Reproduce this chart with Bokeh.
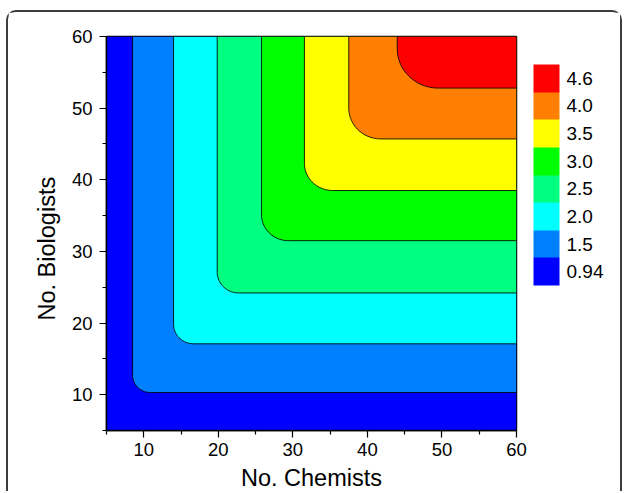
import numpy as np
from bokeh.plotting import figure
from bokeh.models import Range1d, FixedTicker, ColorBar, LinearColorMapper, Title
from bokeh.embed import file_html
from bokeh.resources import INLINE

# ---- data ----
level_labels = ["0.94", "1.5", "2.0", "2.5", "3.0", "3.5", "4.0", "4.6"]
level_colors = ["#0000FF", "#0080FF", "#00FFFF", "#00FF80",
                "#00FF00", "#FFFF00", "#FF8000", "#FF0000"]
# No. Chemists where each higher band starts (vertical contour branch)
chem_edge = [8.5, 14.0, 19.85, 25.8, 31.55, 37.5, 44.0]
# No. Biologists where each higher band starts (horizontal contour branch)
bio_edge = [10.3, 17.1, 24.2, 31.5, 38.5, 45.7, 52.8]
# rounding of the contour corner (data units)
corner_r = [2.4, 2.7, 2.9, 3.6, 3.8, 4.3, 5.5]
x_lo, x_hi = 5, 60
y_lo, y_hi = 5, 60
major_ticks = [10, 20, 30, 40, 50, 60]
minor_ticks = [5, 15, 25, 35, 45, 55]
x_title = "No. Chemists"
y_title = "No. Biologists"

FONT = "Liberation Sans"


def band_region(x0, y0, r):
    t = np.linspace(np.pi, 1.5 * np.pi, 24)
    ax = x0 + r + r * np.cos(t)
    ay = y0 + r + r * np.sin(t)
    xs = [x_hi, x0] + list(ax) + [x_hi]
    ys = [y_hi, y_hi] + list(ay) + [y0]
    return xs, ys


p = figure(width=616, height=481,
           x_range=Range1d(x_lo, x_hi), y_range=Range1d(y_lo, y_hi),
           output_backend="svg", toolbar_location=None,
           min_border_left=98, min_border_right=108,
           min_border_top=24, min_border_bottom=63)

p.quad(left=x_lo, right=x_hi, bottom=y_lo, top=y_hi,
       fill_color=level_colors[0], line_color=None)

for k in range(len(chem_edge)):
    xs, ys = band_region(chem_edge[k], bio_edge[k], corner_r[k])
    p.patch(xs, ys, fill_color=level_colors[k + 1], line_color="black",
            line_width=1, line_alpha=0.85)

p.grid.visible = False
p.outline_line_color = "black"
p.outline_line_width = 1.5

for ax in (p.xaxis[0], p.yaxis[0]):
    ax.ticker = FixedTicker(ticks=major_ticks, minor_ticks=minor_ticks)
    ax.axis_line_color = "black"
    ax.axis_line_width = 1.5
    ax.major_tick_line_color = "black"
    ax.minor_tick_line_color = "black"
    ax.major_tick_line_width = 1.2
    ax.minor_tick_line_width = 1.2
    ax.major_tick_in = 0
    ax.major_tick_out = 7
    ax.minor_tick_in = 0
    ax.minor_tick_out = 4
    ax.major_label_text_font = FONT
    ax.major_label_text_font_size = "18.5px"
    ax.major_label_text_color = "black"
    ax.axis_label_text_font = FONT
    ax.axis_label_text_font_size = "23.5px"
    ax.axis_label_text_font_style = "normal"
    ax.axis_label_text_color = "black"

p.xaxis.axis_label = x_title
p.xaxis.major_label_standoff = 5
p.xaxis.axis_label_standoff = 6
p.yaxis.major_label_standoff = 7

ytitle = Title(text=y_title, align="left", offset=110, standoff=18,
               text_font=FONT, text_font_size="23.5px",
               text_font_style="normal", text_color="black")
p.add_layout(ytitle, "left")

mapper = LinearColorMapper(palette=level_colors, low=0, high=len(level_colors))
cb = ColorBar(color_mapper=mapper, width=26, height=221,
              ticker=FixedTicker(ticks=[i + 0.5 for i in range(len(level_labels))]),
              major_label_overrides={i + 0.5: lab for i, lab in enumerate(level_labels)},
              major_tick_line_color=None, bar_line_color=None,
              major_label_text_font=FONT, major_label_text_font_size="19px",
              major_label_text_color="black", label_standoff=7,
              padding=0, margin=0, location=(17, 145),
              background_fill_color=None, border_line_color=None)
p.add_layout(cb, "right")

p.margin = (10, 0, 0, 6)
p.styles = {
    "border-top": "2px solid #3c3c3c",
    "border-left": "2px solid #3c3c3c",
    "border-right": "2px solid #3c3c3c",
    "border-top-left-radius": "10px",
    "border-top-right-radius": "10px",
}

open("out.html", "w").write(file_html(p, INLINE))
